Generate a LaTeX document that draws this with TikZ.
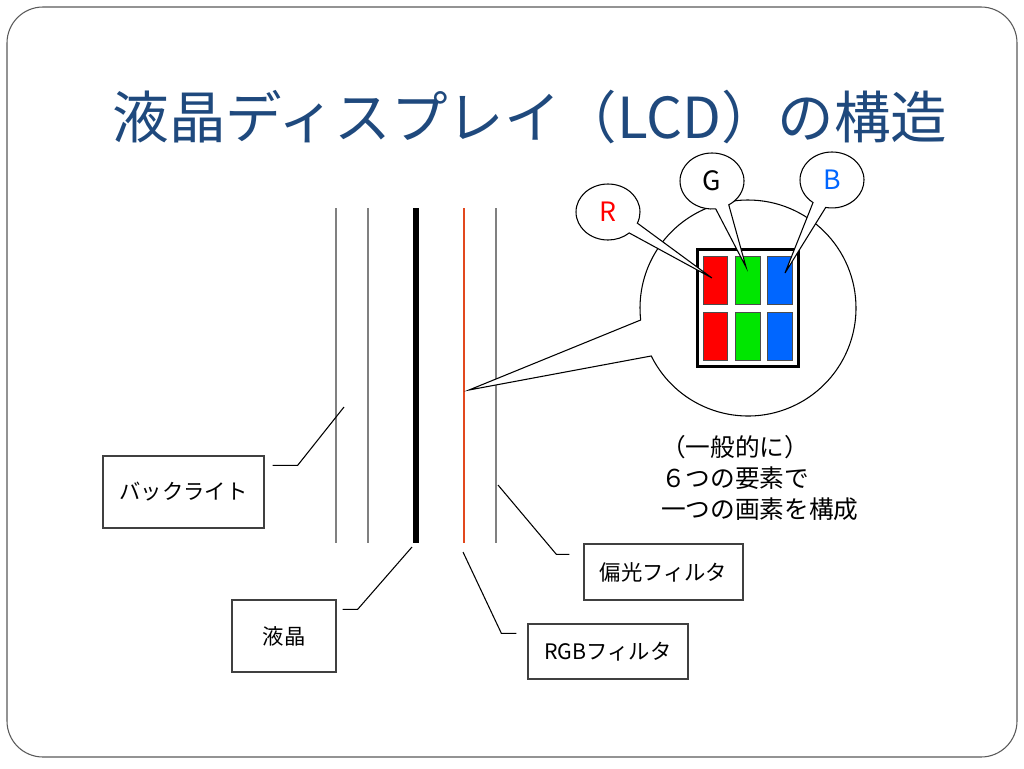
\documentclass[tikz,border=0pt]{standalone}
\usepackage{fontspec}
\setmainfont{Noto Sans CJK JP}
\usetikzlibrary{shapes.callouts}
\definecolor{titleblue}{RGB}{31,73,125}
\definecolor{cellred}{RGB}{255,0,0}
\definecolor{cellgreen}{RGB}{0,230,0}
\definecolor{cellblue}{RGB}{0,102,255}
\definecolor{filterred}{RGB}{226,72,30}
\begin{document}
\begin{tikzpicture}[x=0.75pt, y=-0.75pt,
	labelbox/.style={draw=black!75, line width=0.9pt, inner sep=0pt, font=\fontsize{16}{19}\selectfont},
	lead/.style={line width=0.8pt},
	layer/.style={draw=black!50, line width=1.1pt},
	cell/.style={draw=black!70, line width=0.6pt, inner sep=0pt, minimum width=18.4pt, minimum height=36pt},
	bubble/.style={ellipse callout, draw, fill=white, line width=0.8pt, inner sep=0pt,
		minimum width=48pt, minimum height=42pt, callout pointer arc=25, font=\fontsize{20}{24}\selectfont}]
	\useasboundingbox (0,0) rectangle (1024,768);
	\draw[black!65, line width=0.8pt, rounded corners=27pt] (7,7) rectangle (1017,757);
	\node[text=titleblue, font=\fontsize{42.4}{50}\selectfont] (title) at (530,117) {液晶ディスプレイ（LCD）の構造};
	% layers of the panel
	\draw[layer] (336,208) -- (336,543);
	\draw[layer] (368,208) -- (368,543);
	\draw[line width=4.5pt] (416,208) -- (416,543);
	\draw[filterred, line width=1.5pt] (464,208) -- (464,543);
	\draw[layer] (496,208) -- (496,543);
	% labels
	\node[labelbox, minimum width=120.75pt, minimum height=54pt] (backlight) at (183.5,492) {バックライト};
	\node[labelbox, minimum width=78pt, minimum height=54pt] (lc) at (284,636) {液晶};
	\node[labelbox, minimum width=119.25pt, minimum height=42pt] (pol) at (663.5,572) {偏光フィルタ};
	\node[labelbox, minimum width=120pt, minimum height=41.25pt] (rgbf) at (608,651.5) {RGBフィルタ};
	\coordinate (backlightT) at (344,407);
	\coordinate (lcT) at (412,547);
	\coordinate (polT) at (498,485);
	\coordinate (rgbfT) at (463,552);
	\draw[lead] ([shift={(8,10)}]backlight.north east) -- ++(25,0) -- (backlightT);
	\draw[lead] ([shift={(6,10)}]lc.north east) -- ++(15,0) -- (lcT);
	\draw[lead] ([shift={(-14,11)}]pol.north west) -- ++(-13,0) -- (polT);
	\draw[lead] ([shift={(-11,10)}]rgbf.north west) -- ++(-15,0) -- (rgbfT);
	% magnified pixel
	\coordinate (zoomT) at (469,390);
	\node[ellipse callout, draw, fill=white, line width=0.8pt, inner sep=0pt, minimum size=162pt,
		callout pointer arc=20, callout absolute pointer={(zoomT)}] (zoom) at (748,308) {};
	\node[draw, line width=2.25pt, inner sep=0pt, minimum width=76pt, minimum height=88pt] (pix) at (748,308) {};
	\foreach \col/\x in {cellred/715.5, cellgreen/748, cellblue/780}{
		\foreach \y in {280,336}{
			\node[cell, fill=\col] (\col\y) at (\x,\y) {};
		}
	}
	\coordinate (rT) at (712,278);
	\coordinate (gT) at (746,267);
	\coordinate (bT) at (785,273);
	\node[bubble, text=cellred, callout absolute pointer={(rT)}] (r) at (608,212) {R};
	\node[bubble, callout absolute pointer={(gT)}] (g) at (712,181) {G};
	\node[bubble, text=cellblue, callout absolute pointer={(bT)}] (b) at (832,180) {B};
	\node[anchor=north west, align=left, inner sep=0pt, font=\fontsize{18.5}{23.25}\selectfont] (note) at (661,435)
		{（一般的に）\\６つの要素で\\一つの画素を構成};
\end{tikzpicture}
\end{document}
